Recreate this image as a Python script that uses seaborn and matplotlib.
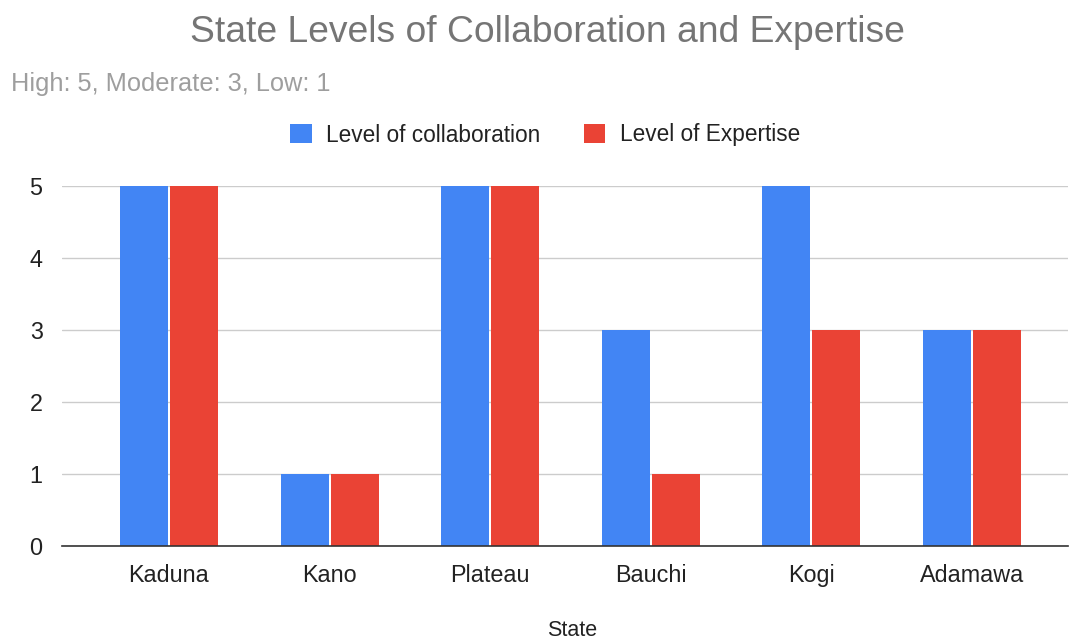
import matplotlib
matplotlib.use("Agg")
import matplotlib.pyplot as plt
import seaborn as sns
import pandas as pd

states = ["Kaduna", "Kano", "Plateau", "Bauchi", "Kogi", "Adamawa"]
collaboration = [5, 1, 5, 3, 5, 3]
expertise = [5, 1, 5, 1, 3, 3]
series_names = ["Level of collaboration", "Level of Expertise"]
colors = ["#4285F4", "#EA4335"]
y_ticks = [0, 1, 2, 3, 4, 5]

df = pd.DataFrame({
    "State": states * 2,
    "Value": collaboration + expertise,
    "Series": [series_names[0]] * len(states) + [series_names[1]] * len(states),
})

sns.set_theme(style="white")
plt.rcParams["font.family"] = ["Liberation Sans", "DejaVu Sans"]

fig = plt.figure(figsize=(10.70, 6.39), dpi=100)
ax = fig.add_axes([62 / 1070, 1 - 546 / 639, (1068 - 62) / 1070, (546 - 186) / 639])

sns.barplot(data=df, x="State", y="Value", hue="Series", order=states,
            hue_order=series_names, palette=colors, width=0.623, gap=0.04,
            saturation=1, ax=ax, legend=True, edgecolor="none")

ax.set_xlim(-0.666, 5.598)
ax.set_ylim(0, 5)
ax.set_yticks(y_ticks)
ax.set_yticklabels([str(t) for t in y_ticks])
ax.grid(axis="y", color="#cccccc", linewidth=1)
ax.set_axisbelow(True)
for s in ["top", "right", "left"]:
    ax.spines[s].set_visible(False)
ax.spines["bottom"].set_color("#333333")
ax.spines["bottom"].set_linewidth(1.2)
ax.spines["bottom"].set_zorder(5)
ax.tick_params(axis="x", length=0, pad=13, labelsize=16.8, labelcolor="#222222")
ax.tick_params(axis="y", length=0, pad=14, labelsize=16.8, labelcolor="#222222")
ax.set_ylabel("")
ax.set_xlabel("")

handles, labels = ax.get_legend_handles_labels()
ax.get_legend().remove()
fig.legend(handles, labels, loc="center", bbox_to_anchor=(545 / 1070, 1 - 135 / 639),
           ncol=2, frameon=False, fontsize=16.3, handlelength=0.95, handleheight=0.95,
           handletextpad=0.65, columnspacing=1.9, labelcolor="#222222")

fig.text(547 / 1070, 1 - 33 / 639, "State Levels of Collaboration and Expertise",
         ha="center", va="center", fontsize=26.8, color="#757575")
fig.text(11 / 1070, 1 - 84 / 639, "High: 5, Moderate: 3, Low: 1",
         ha="left", va="center", fontsize=18.3, color="#9e9e9e")
fig.text(572 / 1070, 1 - 630 / 639, "State", ha="center", va="center",
         fontsize=15.5, color="#222222")

fig.savefig("out.png", dpi=100, facecolor="white")
